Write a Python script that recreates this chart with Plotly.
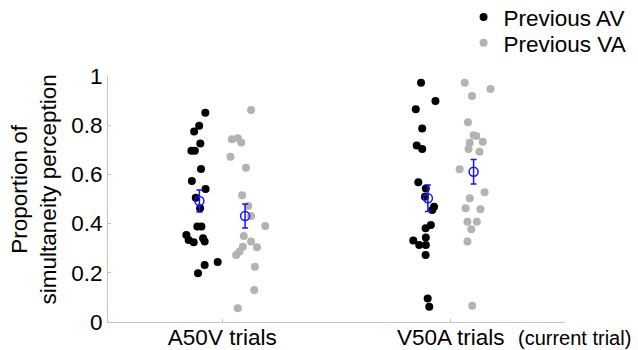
import plotly.graph_objects as go

categories = ["A50V trials", "V50A trials"]
cat_pos = [1, 2]

# Individual participant values (proportion of simultaneity perception)
a50v_prev_av = [0.851, 0.798, 0.774, 0.726, 0.696, 0.696, 0.622, 0.573, 0.541, 0.505, 0.462,
                0.388, 0.388, 0.354, 0.333, 0.324, 0.340, 0.327, 0.244, 0.232, 0.198]
a50v_prev_av_jit = [-0.074, -0.101, -0.123, -0.096, -0.135, -0.120, -0.093, -0.133, -0.073, -0.116, -0.097,
                    -0.109, -0.091, -0.157, -0.147, -0.125, -0.084, -0.077, -0.020, -0.077, -0.106]
a50v_prev_va = [0.862, 0.743, 0.747, 0.730, 0.672, 0.627, 0.515, 0.472, 0.431, 0.390, 0.350,
                0.327, 0.304, 0.306, 0.286, 0.272, 0.225, 0.130, 0.056]
a50v_prev_va_jit = [0.126, 0.042, 0.068, 0.083, 0.036, 0.104, 0.087, 0.114, 0.126, 0.188, 0.094,
                    0.126, 0.152, 0.090, 0.075, 0.061, 0.143, 0.140, 0.068]
v50a_prev_av = [0.973, 0.898, 0.865, 0.787, 0.717, 0.703, 0.568, 0.543, 0.509, 0.469, 0.455,
                0.394, 0.381, 0.343, 0.331, 0.313, 0.313, 0.272, 0.096, 0.062]
v50a_prev_av_jit = [-0.130, -0.067, -0.153, -0.125, -0.149, -0.125, -0.142, -0.109, -0.113, -0.073, -0.081,
                    -0.087, -0.110, -0.109, -0.164, -0.138, -0.109, -0.110, -0.101, -0.094]
v50a_prev_va = [0.973, 0.947, 0.919, 0.812, 0.759, 0.756, 0.733, 0.729, 0.703, 0.692, 0.621,
                0.527, 0.503, 0.462, 0.458, 0.408, 0.408, 0.377, 0.327, 0.066]
v50a_prev_va_jit = [0.061, 0.174, 0.093, 0.075, 0.100, 0.112, 0.140, 0.083, 0.078, 0.126, 0.039,
                    0.148, 0.083, 0.065, 0.130, 0.073, 0.114, 0.090, 0.073, 0.094]

# Group means and SEM
mean_prev_av = [0.492, 0.503]
sem_prev_av = [0.045, 0.054]
mean_prev_va = [0.431, 0.611]
sem_prev_va = [0.049, 0.050]
group_offset = [-0.1, 0.1]

ytick_vals = [0, 0.2, 0.4, 0.6, 0.8, 1]
ytick_text = ["0", "0.2", "0.4", "0.6", "0.8", "1"]

BLACK = "#000000"
GRAY = "#b3b3b3"
BLUE = "#1414ff"
AXIS = "#c4c4c4"
FONT = "Liberation Sans, Arial, sans-serif"
FS = 22.5

fig = go.Figure()

fig.add_trace(go.Scatter(
    x=[cat_pos[0] + j for j in a50v_prev_av_jit] + [cat_pos[1] + j for j in v50a_prev_av_jit],
    y=a50v_prev_av + v50a_prev_av,
    mode="markers", name="Previous AV", legend="legend",
    marker=dict(color=BLACK, size=8, line=dict(width=0)),
))
fig.add_trace(go.Scatter(
    x=[cat_pos[0] + j for j in a50v_prev_va_jit] + [cat_pos[1] + j for j in v50a_prev_va_jit],
    y=a50v_prev_va + v50a_prev_va,
    mode="markers", name="Previous VA", legend="legend2",
    marker=dict(color=GRAY, size=8, line=dict(width=0)),
))
fig.add_trace(go.Scatter(
    x=[p + group_offset[0] for p in cat_pos], y=mean_prev_av,
    mode="markers", showlegend=False,
    marker=dict(symbol="circle-open", color=BLUE, size=9, line=dict(width=1.5)),
    error_y=dict(type="data", array=sem_prev_av, color=BLUE, thickness=1.5, width=3),
))
fig.add_trace(go.Scatter(
    x=[p + group_offset[1] for p in cat_pos], y=mean_prev_va,
    mode="markers", showlegend=False,
    marker=dict(symbol="circle-open", color=BLUE, size=9, line=dict(width=1.5)),
    error_y=dict(type="data", array=sem_prev_va, color=BLUE, thickness=1.5, width=3),
))

legend_common = dict(x=0.778, xanchor="left", yanchor="top",
                     font=dict(size=FS), bgcolor="rgba(0,0,0,0)", itemwidth=30)

fig.update_layout(
    width=638, height=350,
    margin=dict(l=108, r=73, t=76, b=28, autoexpand=False),
    paper_bgcolor="white", plot_bgcolor="white",
    font=dict(family=FONT, color="black", size=FS),
    showlegend=True,
    legend=dict(y=1.326, **legend_common),
    legend2=dict(y=1.221, **legend_common),
    xaxis=dict(range=[0.5, 2.5], tickvals=cat_pos, ticktext=categories, automargin=False,
               showgrid=False, zeroline=False, showline=True, linecolor=AXIS, linewidth=1,
               ticks="inside", ticklen=3, tickcolor=AXIS, tickfont=dict(size=FS),
               ticklabelstandoff=-5),
    yaxis=dict(range=[0, 1], tickvals=ytick_vals, ticktext=ytick_text, automargin=False,
               showgrid=False, zeroline=False, showline=True, linecolor=AXIS, linewidth=1,
               ticks="inside", ticklen=3, tickcolor=AXIS, tickfont=dict(size=FS)),
    annotations=[
        dict(text="Proportion of<br>simultaneity perception", xref="paper", yref="paper",
             x=-0.163, y=0.537, textangle=-90, showarrow=False, font=dict(size=FS),
             xanchor="center", yanchor="middle"),
        dict(text="(current trial)", xref="paper", yref="paper",
             x=1.021, y=-0.065, showarrow=False, font=dict(size=20),
             xanchor="center", yanchor="middle"),
    ],
)

fig.write_html("out.html")
